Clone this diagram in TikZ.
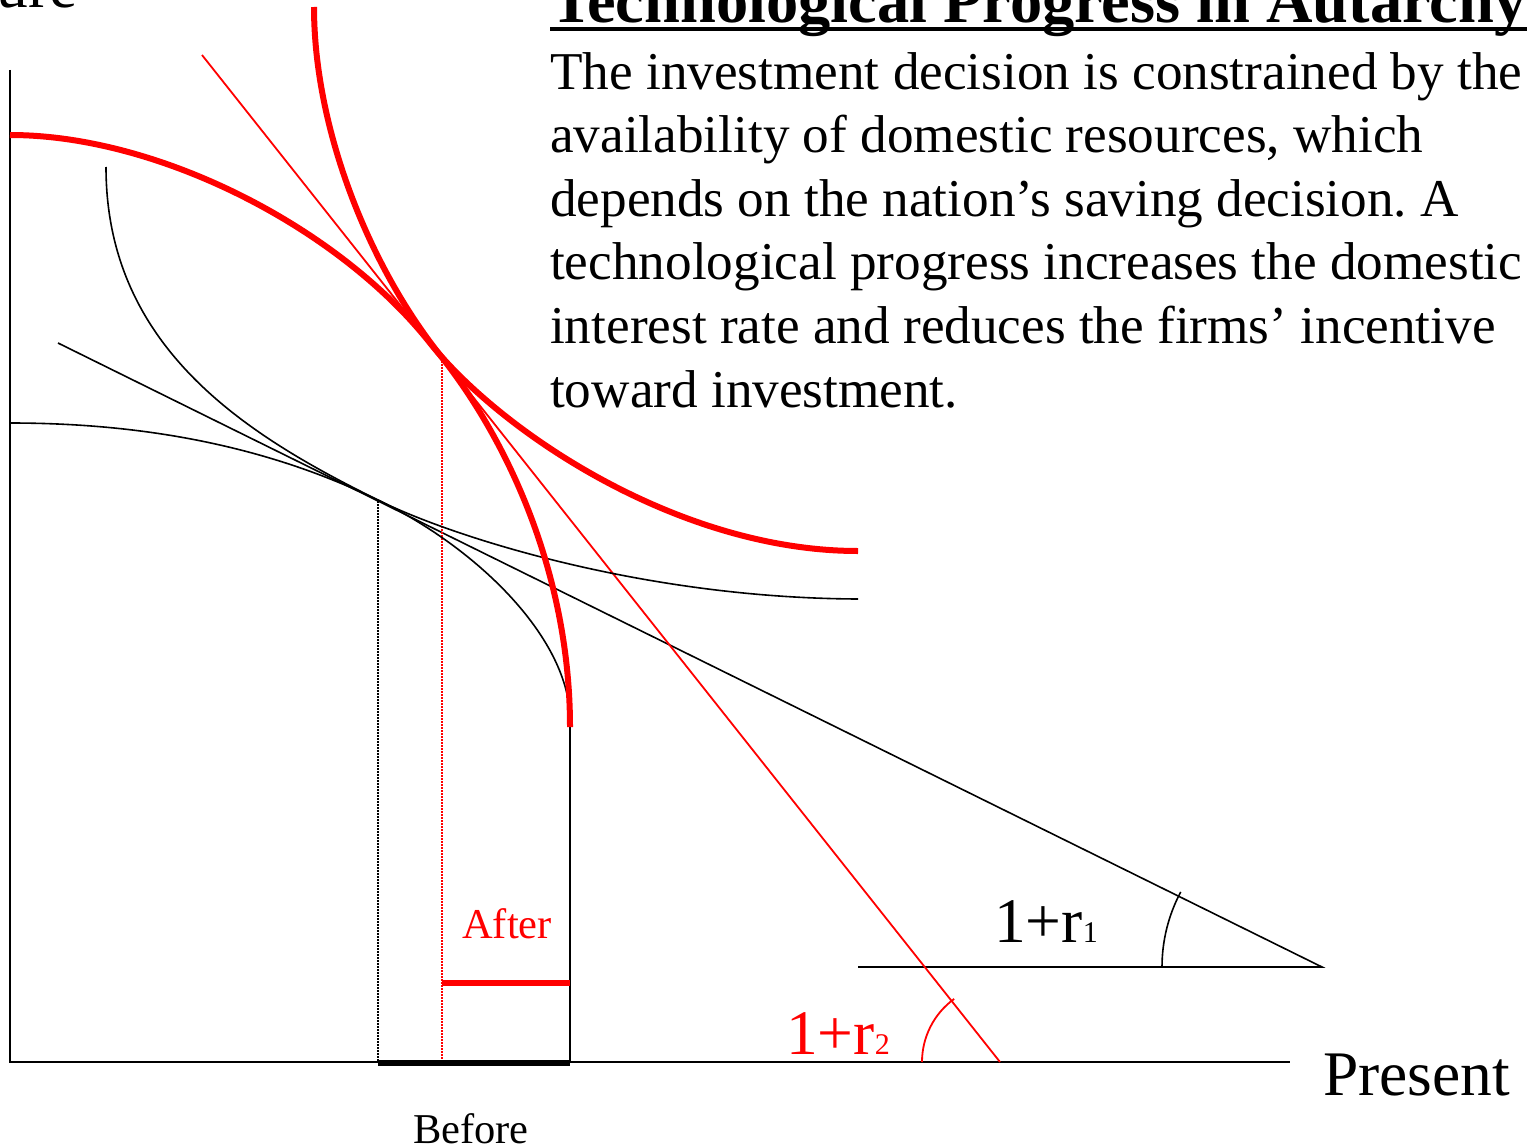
\documentclass[tikz,border=0pt]{standalone}
\usepackage{fontspec}
\setmainfont{Liberation Serif}
\newcommand{\fsz}[1]{\fontsize{#1}{#1}\selectfont}
\begin{document}
\frenchspacing
\begin{tikzpicture}[x=1pt,y=-1pt,
  thinblack/.style={draw=black,line width=1.6pt},
  thickred/.style={draw=red,line width=6pt},
  thinred/.style={draw=red,line width=1.8pt},
  body/.style={anchor=base west,inner sep=0pt,font=\fsz{53.2}},
  big/.style={inner sep=0pt,font=\fsz{63.5}},
  small/.style={inner sep=0pt,font=\fsz{42.5}}]
\useasboundingbox (0,0) rectangle (1528,1148);
\clip (0,0) rectangle (1528,1148);

% title and text
\node[big,anchor=base west,font=\fsz{64.4}\bfseries] (title) at (550,23) {Technological Progress in Autarchy};
\draw[line width=4pt] ([yshift=-6pt]title.base west) -- ([yshift=-6pt]title.base east);
\node[body] (t1) at (550,89) {The investment decision is constrained by the};
\node[body] (t2) at (550,152.6) {availability of domestic resources, which};
\node[body] (t3) at (550,216.2) {depends on the nation’s saving decision. A};
\node[body] (t4) at (550,279.8) {technological progress increases the domestic};
\node[body] (t5) at (550,343.4) {interest rate and reduces the firms’ incentive};
\node[body] (t6) at (550,407) {toward investment.};

% axes
\coordinate (O) at (10,1062);
\coordinate (ytop) at (10,70);
\coordinate (xend) at (1290,1062);
\draw[thinblack] (ytop) -- (O) -- (xend);
\node[big,anchor=base east] (future) at (78,8) {Future};
\node[big,anchor=base west] (present) at (1323,1095) {Present};

% budget lines
\coordinate (b1s) at (58,343);
\coordinate (b1e) at (1322,967);
\coordinate (h1s) at (858,967);
\draw[thinblack] (b1s) -- (b1e) -- (h1s);
\coordinate (b2s) at (202,55);
\coordinate (b2e) at (1000,1062);
\draw[thinred] (b2s) -- (b2e);

% angle arcs
\draw[thinblack] (1162,967) arc[start angle=180,end angle=208,radius=160];
\draw[thinred] (922,1062) arc[start angle=180,end angle=234,radius=78];
\node[big,anchor=base west] (r1) at (994,942) {1+r{\fsz{30}1}};
\node[big,anchor=base west,text=red] (r2) at (786,1054) {1+r{\fsz{30}2}};

% dotted lines
\coordinate (d1t) at (378,501);
\coordinate (d1b) at (378,1062);
\coordinate (d2t) at (442,358);
\coordinate (d2b) at (442,1062);
\draw[black,line width=1.2pt,dash pattern=on 1.5pt off 1.5pt] (d1t) -- (d1b);
\draw[red,line width=1.2pt,dash pattern=on 1.5pt off 1.5pt] (d2t) -- (d2b);

% black indifference curve
\draw[thinblack] (10,423) .. controls (160,423) and (280,452) .. (380,501)
  .. controls (450,535.6) and (640,598) .. (858,599);
% black PPF
\draw[thinblack] (106,167) .. controls (106,350) and (250,437) .. (380,501)
  .. controls (480,550) and (570,640) .. (570,720) -- (570,1062);

% red indifference curve
\draw[thickred] (10,135) .. controls (160,135) and (340,229) .. (430,343)
  .. controls (500,431) and (678,551) .. (858,551);
% red PPF
\draw[thickred] (314,7) .. controls (314,130) and (370,267) .. (440,355)
  .. controls (510,443) and (570,577) .. (570,727);

% segments
\coordinate (a1) at (442,983);
\coordinate (a2) at (570,983);
\draw[red,line width=6.5pt] (a1) -- (a2);
\coordinate (c1) at (378,1063);
\coordinate (c2) at (570,1063);
\draw[black,line width=6.5pt] (c1) -- (c2);
\node[small,anchor=base west,text=red] (after) at (462,938) {After};
\node[small,anchor=base west] (before) at (413,1143) {Before};
\end{tikzpicture}
\end{document}
